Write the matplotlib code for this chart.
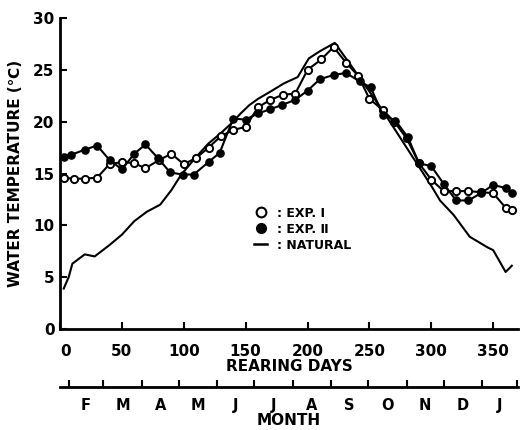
import matplotlib
matplotlib.use("Agg")
import matplotlib.pyplot as plt
from matplotlib.lines import Line2D
import matplotlib.transforms as mtransforms

plt.rcParams['font.family'] = ['DejaVu Sans']
plt.rcParams['font.weight'] = 'bold'

# ---- data ----
days_exp1 = [3, 11, 20, 30, 40, 50, 60, 69, 80, 90, 100, 110, 120, 130, 140, 150, 160,
             170, 180, 190, 200, 211, 221, 231, 241, 250, 261, 270, 280, 290, 300, 310,
             320, 330, 340, 350, 360, 365]
temp_exp1 = [14.6, 14.5, 14.5, 14.6, 15.9, 16.1, 16.0, 15.5, 16.3, 16.9, 15.9, 16.5, 17.5,
             18.6, 19.2, 19.5, 21.4, 22.1, 22.6, 22.7, 25.0, 26.0, 27.2, 25.7, 24.4, 22.2,
             21.1, 20.0, 18.4, 16.0, 14.4, 13.3, 13.3, 13.3, 13.2, 13.1, 11.7, 11.5]

days_exp2 = [3, 9, 20, 30, 40, 50, 60, 69, 79, 89, 99, 108, 120, 129, 140, 150, 160, 170,
             179, 190, 200, 210, 221, 231, 242, 251, 261, 271, 281, 290, 300, 310, 320, 330,
             340, 350, 360, 365]
temp_exp2 = [16.6, 16.8, 17.3, 17.7, 16.3, 15.4, 16.9, 17.8, 16.5, 15.1, 14.9, 14.9, 16.1,
             17.0, 20.3, 20.2, 20.8, 21.2, 21.6, 22.1, 23.0, 24.1, 24.5, 24.7, 23.9, 23.3,
             20.6, 20.1, 18.5, 16.0, 15.7, 14.0, 12.4, 12.4, 13.1, 13.9, 13.6, 13.1]

days_nat = [3, 7, 10, 20, 28, 40, 50, 60, 70, 81, 90, 98, 110, 120, 130, 139, 146, 153, 160,
            170, 181, 192, 201, 210, 222, 240, 260, 280, 300, 307, 318, 331, 345, 350, 360, 365]
temp_nat = [3.9, 5.0, 6.3, 7.2, 7.0, 8.1, 9.1, 10.4, 11.3, 12.0, 13.4, 14.9, 16.6, 17.9,
            18.9, 19.9, 20.8, 21.6, 22.2, 22.9, 23.7, 24.3, 26.1, 26.8, 27.6, 24.6, 21.2,
            17.5, 13.8, 12.4, 11.0, 8.9, 7.9, 7.6, 5.5, 6.1]

day_ticks = [0, 50, 100, 150, 200, 250, 300, 350]
temp_ticks = [0, 5, 10, 15, 20, 25, 30]
month_edges = [7, 35, 66, 96, 127, 157, 188, 219, 249, 280, 310, 341, 369]
month_labels = ['F', 'M', 'A', 'M', 'J', 'J', 'A', 'S', 'O', 'N', 'D', 'J']
legend_labels = [': EXP. Ⅰ', ': EXP. Ⅱ', ': NATURAL']

# ---- figure ----
fig = plt.figure(figsize=(5.2, 4.3), dpi=100)
ax = fig.add_axes([60 / 520, 101 / 430, 458 / 520, 311 / 430])

lw = 1.5
ax.plot(days_nat, temp_nat, color='black', lw=lw, zorder=2)
ax.plot(days_exp1, temp_exp1, color='black', lw=lw, marker='o', ms=5.2,
        mfc='white', mec='black', mew=1.4, zorder=3)
ax.plot(days_exp2, temp_exp2, color='black', lw=lw, marker='o', ms=5.2,
        mfc='black', mec='black', mew=1.0, zorder=4)

ax.set_xlim(0, 370)
ax.set_ylim(0, 30)
for s in ['top', 'right']:
    ax.spines[s].set_visible(False)
for s in ['left', 'bottom']:
    ax.spines[s].set_linewidth(2.0)

ax.set_xticks(day_ticks)
ax.set_yticks(temp_ticks)
ax.tick_params(axis='both', direction='in', length=5, width=1.5, labelsize=11)
ax.tick_params(axis='x', pad=11)
ax.tick_params(axis='y', pad=4)
for lab in ax.get_xticklabels() + ax.get_yticklabels():
    lab.set_fontweight('bold')
# first day label sits slightly to the right in the reference
xl = ax.get_xticklabels()
xl[0].set_transform(xl[0].get_transform() +
                    mtransforms.ScaledTranslation(6 / 100, 0, fig.dpi_scale_trans))

ax.set_xlabel('REARING DAYS', fontsize=11, fontweight='bold')
ax.xaxis.set_label_coords(0.5, -0.098)
ax.set_ylabel('WATER TEMPERATURE (℃)', fontsize=11, fontweight='bold')
ax.yaxis.set_label_coords(-0.080, 0.5)

# month axis
sec = ax.secondary_xaxis(-0.1865)
sec.spines['bottom'].set_linewidth(2.0)
sec.set_xticks(month_edges)
sec.set_xticklabels([''] * len(month_edges))
mids = [(month_edges[i] + month_edges[i + 1]) / 2 for i in range(len(month_labels))]
sec.set_xticks(mids, minor=True)
sec.set_xticklabels(month_labels, minor=True, fontsize=10.5, fontweight='bold')
sec.tick_params(axis='x', which='major', direction='in', length=5, width=1.5)
sec.tick_params(axis='x', which='minor', length=0, pad=8)
sec.set_xlabel('MONTH', fontsize=11, fontweight='bold', labelpad=0)

# legend
handles = [
    Line2D([], [], ls='none', marker='o', ms=7, mfc='white', mec='black', mew=1.5),
    Line2D([], [], ls='none', marker='o', ms=7, mfc='black', mec='black'),
    Line2D([], [], color='black', lw=1.8),
]
leg = ax.legend(handles, legend_labels, loc='upper left', bbox_to_anchor=(0.4, 0.43),
                frameon=False, handlelength=1.0, handletextpad=0.8, labelspacing=0.25,
                prop={'weight': 'bold', 'size': 9})

fig.savefig('out.png', dpi=100)
